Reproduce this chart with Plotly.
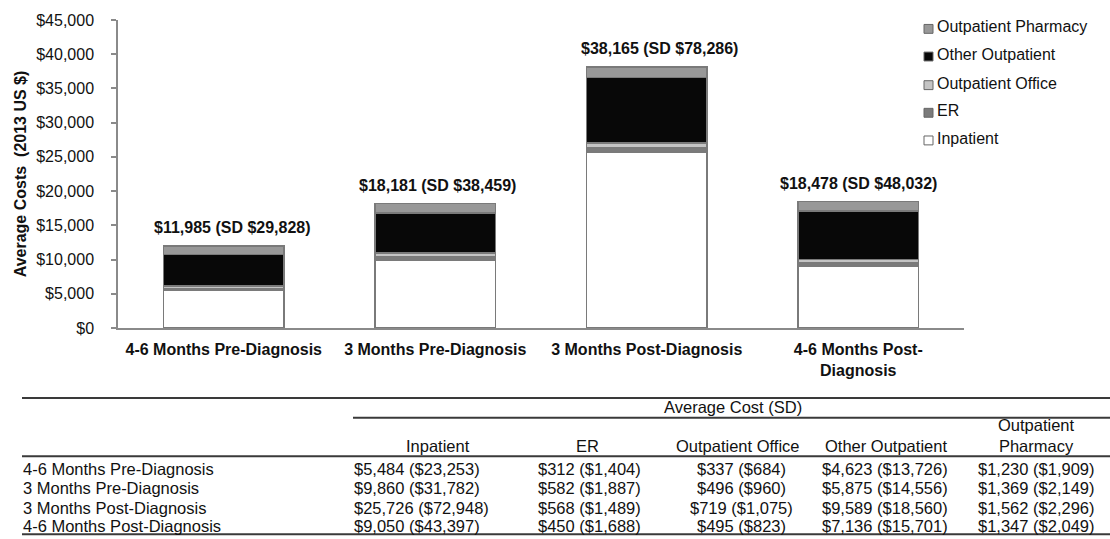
import plotly.graph_objects as go

# ---------------- data ----------------
categories = ["4-6 Months Pre-Diagnosis", "3 Months Pre-Diagnosis",
              "3 Months Post-Diagnosis", "4-6 Months Post-Diagnosis"]
category_ticks = ["4-6 Months Pre-Diagnosis", "3 Months Pre-Diagnosis",
                  "3 Months Post-Diagnosis", "4-6 Months Post-<br>Diagnosis"]

series_names = ["Inpatient", "ER", "Outpatient Office", "Other Outpatient", "Outpatient Pharmacy"]
inpatient = [5484, 9860, 25726, 9050]
er = [312, 582, 568, 450]
outpatient_office = [337, 496, 719, 495]
other_outpatient = [4623, 5875, 9589, 7136]
outpatient_pharmacy = [1230, 1369, 1562, 1347]

inpatient_sd = [23253, 31782, 72948, 43397]
er_sd = [1404, 1887, 1489, 1688]
outpatient_office_sd = [684, 960, 1075, 823]
other_outpatient_sd = [13726, 14556, 18560, 15701]
outpatient_pharmacy_sd = [1909, 2149, 2296, 2049]

totals = [11985, 18181, 38165, 18478]
totals_sd = [29828, 38459, 78286, 48032]

y_title = "Average Costs  (2013 US $)"
table_group_title = "Average Cost (SD)"
table_col_headers = ["Inpatient", "ER", "Outpatient Office", "Other Outpatient", "Outpatient<br>Pharmacy"]

# ---------------- styles ----------------
series_values = [inpatient, er, outpatient_office, other_outpatient, outpatient_pharmacy]
series_sds = [inpatient_sd, er_sd, outpatient_office_sd, other_outpatient_sd, outpatient_pharmacy_sd]
series_colors = ["#ffffff", "#7b7b7b", "#c4c4c4", "#080808", "#989898"]
outline = "#7a7a7a"
label_xshift = [9, 2, 13, 0]

W, H = 1110, 539
L, R, T, B = 118, 1110 - 964, 16, 539 - 328
PW, PH = W - L - R, H - T - B


def px(x):
    return (x - L) / PW


def py(y):
    return (H - B - y) / PH


FONT = "Liberation Sans, Arial, sans-serif"
TXT = "#111111"

fig = go.Figure()
for name, vals, col in zip(series_names, series_values, series_colors):
    fig.add_trace(go.Bar(
        x=categories, y=vals, name=name, width=0.57,
        marker=dict(color=col, line=dict(color=outline, width=1.5)),
        showlegend=False,
    ))

annotations = []
# total labels above bars
for i, (c, t, sd) in enumerate(zip(categories, totals, totals_sd)):
    annotations.append(dict(
        x=c, y=t, xref="x", yref="y", text=f"<b>${t:,} (SD ${sd:,})</b>",
        showarrow=False, yanchor="bottom", yshift=8, xshift=label_xshift[i],
        font=dict(family=FONT, size=16, color=TXT),
    ))

shapes = []
# manual legend (reverse stacking order)
legend_rows = [25, 53, 82, 110, 138]
for row_y, name, col in zip(legend_rows, series_names[::-1], series_colors[::-1]):
    shapes.append(dict(type="rect", xref="paper", yref="paper",
                       x0=px(924), x1=px(933), y0=py(row_y + 4.5), y1=py(row_y - 4.5),
                       fillcolor=col, line=dict(color="#666666", width=1)))
    annotations.append(dict(x=px(935), y=py(row_y), xref="paper", yref="paper", yshift=2,
                            text=name, showarrow=False, xanchor="left", yanchor="middle",
                            font=dict(family=FONT, size=16, color=TXT)))

# table lines
line_col = "#3a3a3a"
for x0, x1, yy in [(22, 1110, 399), (353, 1110, 419), (22, 1110, 458), (22, 1110, 537)]:
    shapes.append(dict(type="line", xref="paper", yref="paper",
                       x0=px(x0), x1=px(x1), y0=py(yy), y1=py(yy),
                       line=dict(color=line_col, width=2)))

TFONT = dict(family=FONT, size=16.5, color=TXT)
annotations.append(dict(x=px(733), y=py(408), xref="paper", yref="paper", text=table_group_title,
                        showarrow=False, xanchor="center", yanchor="middle", font=TFONT))
col_centers = [438, 587, 738, 886, 1036]
for cx, head in zip(col_centers, table_col_headers):
    annotations.append(dict(x=px(cx), y=py(449), xref="paper", yref="paper", text=head,
                            showarrow=False, xanchor="center", yanchor="bottom", yshift=-10,
                            font=TFONT))

row_ys = [469, 488, 508, 527]
value_centers = [None, 589, 741, 885, 1036]
for r, (cat, ry) in enumerate(zip(categories, row_ys)):
    annotations.append(dict(x=px(21), y=py(ry), xref="paper", yref="paper", text=cat, yshift=-2,
                            showarrow=False, xanchor="left", yanchor="middle", font=TFONT))
    for j in range(5):
        txt = f"${series_values[j][r]:,} (${series_sds[j][r]:,})"
        if j == 0:
            annotations.append(dict(x=px(352), y=py(ry), xref="paper", yref="paper", text=txt,
                                    yshift=-2, showarrow=False, xanchor="left",
                                    yanchor="middle", font=TFONT))
        else:
            annotations.append(dict(x=px(value_centers[j]), y=py(ry), xref="paper", yref="paper",
                                    text=txt, yshift=-2, showarrow=False, xanchor="center",
                                    yanchor="middle", font=TFONT))

fig.update_layout(
    width=W, height=H, autosize=False,
    margin=dict(l=L, r=R, t=T, b=B, pad=0),
    barmode="stack", bargap=0.43,
    plot_bgcolor="white", paper_bgcolor="white",
    font=dict(family=FONT, size=16, color=TXT),
    annotations=annotations, shapes=shapes,
    xaxis=dict(
        tickvals=categories, ticktext=[f"<b>{t}</b>" for t in category_ticks],
        showgrid=False, showline=True, linecolor="#8a8a8a", linewidth=1.5,
        ticks="", tickfont=dict(family=FONT, size=16, color=TXT),
        range=[-0.5, 3.5], ticklabelstandoff=6,
    ),
    yaxis=dict(
        range=[0, 45000], dtick=5000, tickprefix="$", tickformat=",d",
        showgrid=False, showline=True, linecolor="#8a8a8a", linewidth=1.5,
        ticks="outside", ticklen=5, tickcolor="#8a8a8a", tickwidth=1.5,
        tickfont=dict(family=FONT, size=16, color=TXT), zeroline=False,
        ticklabelstandoff=14,
        title=dict(text=f"<b>{y_title}</b>", font=dict(family=FONT, size=16, color=TXT), standoff=6),
    ),
)

fig.write_html("out.html", config={"displayModeBar": False},
               post_script="document.body.style.margin='0';document.body.style.padding='0';")
